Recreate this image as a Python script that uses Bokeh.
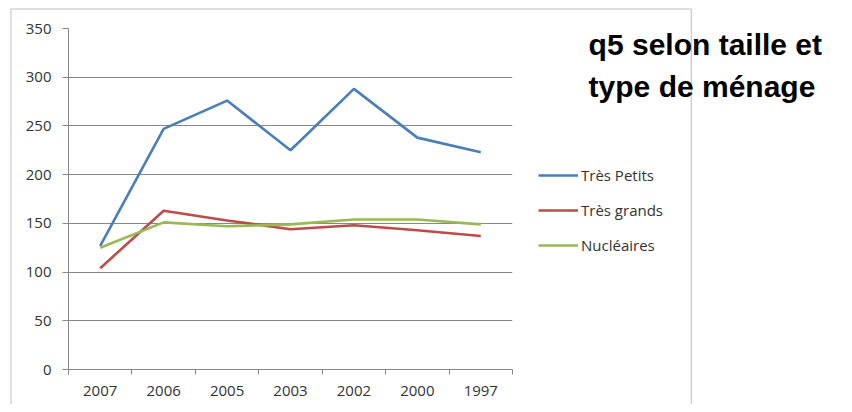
from bokeh.plotting import figure
from bokeh.models import Range1d, FixedTicker, Legend, LegendItem, Label
from bokeh.embed import file_html
from bokeh.resources import INLINE

years = ["2007", "2006", "2005", "2003", "2002", "2000", "1997"]
tres_petits = [127, 247, 276, 225, 288, 238, 223]
tres_grands = [104, 163, 153, 144, 148, 143, 137]
nucleaires = [125, 151, 147, 149, 154, 154, 149]
y_ticks = [0, 50, 100, 150, 200, 250, 300, 350]
series_names = ["Très Petits", "Très grands", "Nucléaires"]
series_colors = ["#4a7ebb", "#be4b48", "#98b954"]
title_text = "q5 selon taille et\ntype de ménage"

xs = list(range(len(years)))
GRID = "#878787"
FONT = "Open Sans"

p = figure(frame_width=444, frame_height=341, output_backend="svg", toolbar_location=None,
           x_range=Range1d(-0.5, len(years) - 0.5), y_range=Range1d(0, 350),
           min_border_left=68, min_border_top=28, min_border_right=0, min_border_bottom=35)
p.outline_line_color = None
p.background_fill_color = "white"
p.border_fill_color = "white"

# x axis: labels at category centres, ticks between categories
p.xaxis.ticker = FixedTicker(ticks=xs, minor_ticks=[i - 0.5 for i in range(len(years) + 1)])
p.xaxis.major_label_overrides = {i: y for i, y in enumerate(years)}
p.xaxis.major_tick_line_color = None
p.xaxis.major_tick_out = 0
p.xaxis.major_tick_in = 0
p.xaxis.minor_tick_out = 5
p.xaxis.minor_tick_in = 0
p.xaxis.minor_tick_line_color = GRID
p.xaxis.axis_line_color = GRID
p.xaxis.major_label_standoff = 11
p.xaxis.major_label_text_font = FONT
p.xaxis.major_label_text_font_size = "15px"
p.xaxis.major_label_text_color = "#333333"

p.yaxis.ticker = FixedTicker(ticks=y_ticks)
p.yaxis.minor_tick_line_color = None
p.yaxis.major_tick_out = 6
p.yaxis.major_tick_in = 0
p.yaxis.major_tick_line_color = GRID
p.yaxis.axis_line_color = GRID
p.yaxis.major_label_standoff = 11
p.yaxis.major_label_text_font = FONT
p.yaxis.major_label_text_font_size = "15px"
p.yaxis.major_label_text_color = "#333333"

p.xgrid.grid_line_color = None
p.ygrid.grid_line_color = GRID

renderers = []
for vals, color in zip([tres_petits, tres_grands, nucleaires], series_colors):
    r = p.line(xs, vals, line_color=color, line_width=2.6)
    renderers.append(r)

legend = Legend(items=[LegendItem(label=n, renderers=[r]) for n, r in zip(series_names, renderers)],
                location=(26, 114), padding=10, spacing=15, glyph_width=40, glyph_height=20,
                label_height=20, label_standoff=3, border_line_color=None,
                background_fill_alpha=0, label_text_font=FONT, label_text_font_size="15px",
                label_text_color="#333333")
p.add_layout(legend, "right")

# outer chart border: an empty padded label box (side panel, so not clipped to the frame)
border = Label(x=-1.4065, y=370.0, text=" ", text_font_size="1px",
               text_align="left", text_baseline="top",
               padding=(0, 680, 420, 0),
               border_line_color="#bdbdbd", border_line_width=1, border_line_alpha=1,
               background_fill_alpha=0)
p.add_layout(border, "right")

title = Label(x=7.70, y=351, text=title_text,
              text_font="Liberation Sans", text_font_style="bold", text_font_size="30px",
              text_baseline="top", text_line_height=1.3, text_color="black")
p.add_layout(title, "right")

open("out.html", "w").write(file_html(p, INLINE))
